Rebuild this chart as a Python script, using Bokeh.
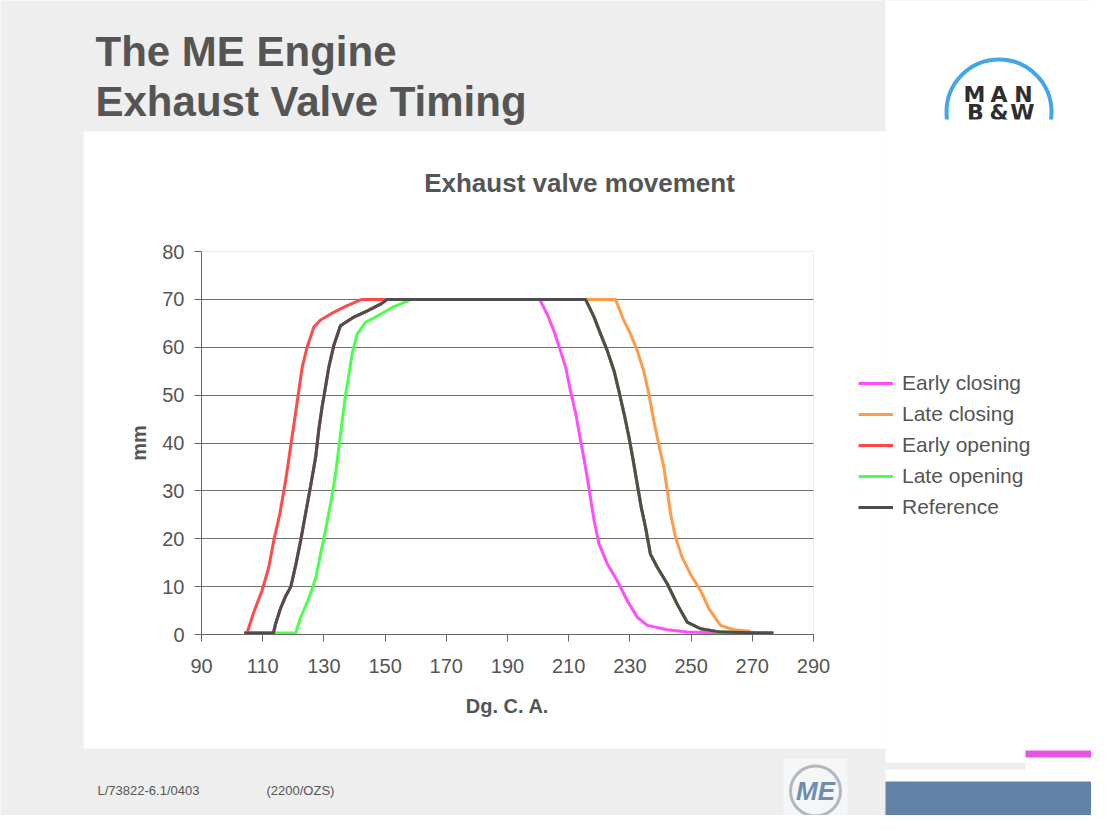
import math
from bokeh.plotting import figure
from bokeh.models import (Range1d, FixedTicker, BoxAnnotation, Label, Legend,
                          LegendItem, LinearAxis, Grid)
from bokeh.embed import file_html
from bokeh.resources import INLINE

# ---------------- data ----------------
# opening flanks (crank angle deg, valve lift mm)
ref_open_deg = [104.0, 113.5, 114.2, 115.8, 117.5, 119.2, 120.9, 122.4, 124.0, 125.6, 127.3,
                128.3, 129.4, 130.5, 131.6, 133.2, 135.4, 139.8, 144.2, 148.5, 150.7]
ref_open_mm = [0.3, 0.3, 2.2, 5.4, 8.0, 10.0, 14.8, 19.6, 25.2, 30.8, 37.0,
               42.6, 47.5, 51.6, 55.8, 60.3, 64.5, 66.3, 67.6, 69.0, 70.0]

early_open_deg = [104.9, 107.1, 109.8, 112.0, 113.6, 115.6, 117.5, 119.1, 120.7, 121.8,
                  122.9, 124.5, 126.7, 128.9, 133.2, 137.6, 142.0, 143.0]
early_open_mm = [0.3, 4.7, 9.2, 14.1, 19.6, 25.2, 32.2, 39.1, 46.1, 50.9,
                 55.8, 60.0, 64.2, 65.7, 67.3, 68.7, 69.9, 70.0]

late_open_deg = [104.0, 120.8, 122.4, 124.8, 126.4, 127.4, 128.9, 130.5, 132.2, 133.8, 134.9,
                 136.0, 137.1, 138.2, 139.2, 140.9, 143.6, 148.5, 152.9, 157.2, 158.5]
late_open_mm = [0.3, 0.3, 3.6, 7.1, 10.0, 12.0, 16.8, 21.7, 27.3, 33.5, 39.1,
                44.7, 50.2, 54.4, 58.6, 62.8, 65.2, 66.9, 68.5, 69.6, 70.0]

# closing flanks
ref_close_deg = [215.5, 218.3, 220.4, 222.6, 224.8, 226.4, 228.1, 229.7, 231.1, 232.4,
                 233.7, 235.1, 236.7, 238.9, 242.2, 245.4, 248.7, 253.1, 259.6, 276.9]
ref_close_mm = [70.0, 66.3, 62.8, 59.3, 55.1, 50.9, 46.1, 41.2, 36.3, 31.4,
                26.6, 22.4, 16.8, 14.1, 10.6, 6.4, 2.6, 1.2, 0.5, 0.3]

early_close_deg = [200.5, 203.0, 205.1, 207.3, 209.0, 210.6, 212.3, 213.9, 215.5, 216.9,
                   218.3, 219.9, 222.6, 225.8, 229.1, 232.4, 235.7, 242.2, 248.7, 259.6]
early_close_mm = [70.0, 66.9, 63.5, 59.3, 55.8, 50.9, 46.1, 40.5, 34.9, 29.4,
                  23.8, 18.9, 14.8, 11.3, 7.1, 3.6, 1.9, 1.0, 0.5, 0.3]

late_close_deg = [225.3, 228.0, 230.2, 232.4, 234.5, 236.2, 237.8, 239.4, 241.1, 242.2,
                  243.3, 244.9, 247.1, 249.8, 253.1, 255.8, 259.6, 264.0, 269.4]
late_close_mm = [70.0, 65.6, 62.8, 59.3, 55.1, 50.2, 44.7, 39.8, 34.9, 30.1,
                 25.2, 20.3, 16.1, 12.6, 9.2, 5.4, 1.9, 1.0, 0.7]

series_names = ["Early closing", "Late closing", "Early opening", "Late opening", "Reference"]
series_colors = ["#ff4dff", "#ff9a4a", "#ff4a4a", "#4dff4d", "#4d4d4d"]

x_ticks = [90, 110, 130, 150, 170, 190, 210, 230, 250, 270, 290]
y_ticks = [0, 10, 20, 30, 40, 50, 60, 70, 80]
grid_ticks = [10, 20, 30, 40, 50, 60, 70]

chart_title = "Exhaust valve movement"
x_label = "Dg. C. A."
y_label = "mm"
slide_title_1 = "The ME Engine"
slide_title_2 = "Exhaust Valve Timing"
footer_1 = "L/73822-6.1/0403"
footer_2 = "(2200/OZS)"

# series = opening flank + closing flank
series_x = [
    ref_open_deg + early_close_deg,
    ref_open_deg + late_close_deg,
    early_open_deg + ref_close_deg,
    late_open_deg + ref_close_deg,
    ref_open_deg + ref_close_deg,
]
series_y = [
    ref_open_mm + early_close_mm,
    ref_open_mm + late_close_mm,
    early_open_mm + ref_close_mm,
    late_open_mm + ref_close_mm,
    ref_open_mm + ref_close_mm,
]

# ---------------- layout constants (canvas pixels) ----------------
W, H = 1091, 815
X_MIN, X_MAX, Y_MIN, Y_MAX = 90, 290, 0, 80
PX0, PX1 = 201, 813      # pixel columns of x = 90 and x = 290
PY0, PY1 = 634, 251      # pixel rows of y = 0 and y = 80

deg_per_px = (X_MAX - X_MIN) / (PX1 - PX0)
mm_per_px = (Y_MAX - Y_MIN) / (PY0 - PY1)

p = figure(width=W, height=H, output_backend="svg", toolbar_location=None, tools="",
           x_range=Range1d(0, W), y_range=Range1d(H, 0),
           x_axis_location=None, y_axis_location=None,
           min_border_left=0, min_border_right=0, min_border_top=0, min_border_bottom=0)
p.outline_line_color = None
p.background_fill_color = "#eeeeee"
p.border_fill_color = "#eeeeee"
for g in list(p.grid):
    g.visible = False

p.extra_x_ranges = {"deg": Range1d(X_MIN - PX0 * deg_per_px, X_MIN + (W - PX0) * deg_per_px)}
p.extra_y_ranges = {"mm": Range1d(Y_MIN - (H - PY0) * mm_per_px, Y_MIN + PY0 * mm_per_px)}


def box(x0, y0, x1, y1, color, level="image"):
    p.add_layout(BoxAnnotation(left=x0, right=x1, top=y0, bottom=y1,
                               fill_color=color, fill_alpha=1.0, line_alpha=0,
                               level=level))


def label(X, Y, text, size, color="#555555", style="normal", align="left",
          font="Liberation Sans"):
    # Y is the wanted baseline row; shift for the renderer's baseline placement
    p.add_layout(Label(x=X, y=Y - round(0.37 * size), text=text, text_font=font,
                       text_font_size=f"{size}px", text_color=color,
                       text_font_style=style, text_align=align,
                       text_baseline="alphabetic"))


# slide background pieces
box(83, 131, 885, 748, "white")
box(885, 0, W, 781, "white")
box(1025, 750, W, 757, "#e455e4")
box(885, 762, 1025, 769, "#eeeeee")
box(885, 781, W, H, "#6181a9")
box(783, 758, 847, 823, "#f4f6f8")

# chart frame outline
p.add_layout(BoxAnnotation(left=X_MIN, right=X_MAX, bottom=Y_MIN, top=Y_MAX,
                           x_range_name="deg", y_range_name="mm",
                           fill_alpha=0, line_color="#c4c4c4", line_width=1,
                           level="underlay"))

# grid
p.add_layout(Grid(dimension=1, ticker=FixedTicker(ticks=grid_ticks),
                  x_range_name="deg", y_range_name="mm", cross_bounds=(X_MIN, X_MAX),
                  grid_line_color="#707070", grid_line_width=1))

# axes
xaxis = LinearAxis(x_range_name="deg", y_range_name="mm", fixed_location=Y_MIN,
                   bounds=(X_MIN, X_MAX), ticker=FixedTicker(ticks=x_ticks),
                   axis_label=x_label)
yaxis = LinearAxis(x_range_name="deg", y_range_name="mm", fixed_location=X_MIN,
                   bounds=(Y_MIN, Y_MAX), ticker=FixedTicker(ticks=y_ticks),
                   axis_label=y_label)
for ax in (xaxis, yaxis):
    ax.axis_line_color = "#666666"
    ax.major_tick_line_color = "#666666"
    ax.major_tick_out = 7
    ax.major_tick_in = 0
    ax.minor_tick_line_color = None
    ax.major_label_text_font = "Liberation Sans"
    ax.major_label_text_font_size = "20px"
    ax.major_label_text_color = "#555555"
    ax.axis_label_text_font = "Liberation Sans"
    ax.axis_label_text_font_size = "20px"
    ax.axis_label_text_font_style = "bold"
    ax.axis_label_text_color = "#555555"
xaxis.major_label_standoff = 17
yaxis.major_label_standoff = 10
xaxis.axis_label_standoff = 19
yaxis.axis_label_standoff = 9
p.add_layout(xaxis, "below")
p.add_layout(yaxis, "left")

# lines
items = []
for name, xs, ys, c in zip(series_names, series_x, series_y, series_colors):
    r = p.line(xs, ys, line_color=c, line_width=3, x_range_name="deg", y_range_name="mm")
    items.append(LegendItem(label=name, renderers=[r]))

legend = Legend(items=items, location=(858, H - 519), orientation="vertical",
                padding=0, margin=0, spacing=7, glyph_width=35, glyph_height=20,
                label_standoff=9, label_text_font="Liberation Sans",
                label_text_font_size="21px", label_text_color="#555555",
                border_line_alpha=0, background_fill_alpha=0)
p.add_layout(legend)

# logos (decoration)
p.circle(x=[998.5], y=[111.5], radius=52.5, fill_alpha=0, line_color="#45a5e6", line_width=4)
p.circle(x=[815], y=[790.5], radius=25, fill_alpha=0, line_color="#b4b8bd", line_width=3)

# texts
label(95, 67, slide_title_1, 42, style="bold")
label(95, 117, slide_title_2, 42, style="bold")
label(579, 192, chart_title, 26, style="bold", align="center")
label(97, 795, footer_1, 13)
label(266, 795, footer_2, 13)

for X, ch in zip([974, 998.5, 1023], "MAN"):
    label(X, 102, ch, 22, color="#2e2e2e", style="bold", align="center", font="DejaVu Sans")
for X, ch in zip([975, 998.5, 1022], "B&W"):
    label(X, 120, ch, 22, color="#2e2e2e", style="bold", align="center", font="DejaVu Sans")
box(930, 119, 1070, 175, "white", level="annotation")

label(815, 800, "ME", 26, color="#6d8db3", style="bold italic", align="center")

open("out.html", "w").write(file_html(p, INLINE))
